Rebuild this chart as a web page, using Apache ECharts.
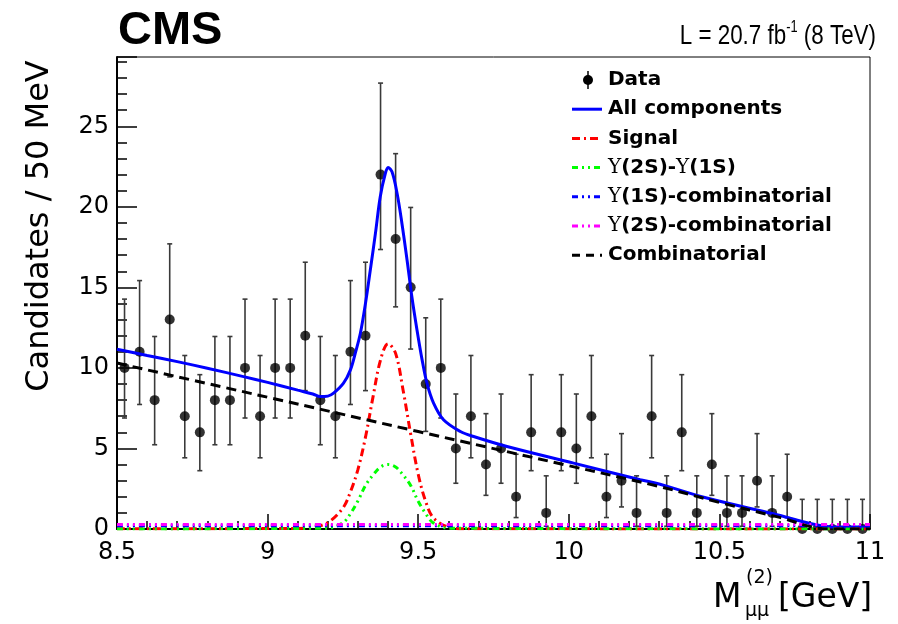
<!DOCTYPE html>
<html lang="en">
<head>
<meta charset="utf-8">
<style>
  html, body { margin: 0; padding: 0; background: #fff; }
  #chart { width: 898px; height: 624px; }
</style>
</head>
<body>
<div id="chart"></div>
<script src="https://cdn.jsdelivr.net/npm/echarts@6/dist/echarts.min.js"></script>
<script>
// bin centres, 50 MeV bins from 8.5 to 11 GeV
const binCenters = [8.525, 8.575, 8.625, 8.675, 8.725, 8.775, 8.825, 8.875, 8.925, 8.975,
  9.025, 9.075, 9.125, 9.175, 9.225, 9.275, 9.325, 9.375, 9.425, 9.475,
  9.525, 9.575, 9.625, 9.675, 9.725, 9.775, 9.825, 9.875, 9.925, 9.975,
  10.025, 10.075, 10.125, 10.175, 10.225, 10.275, 10.325, 10.375, 10.425, 10.475,
  10.525, 10.575, 10.625, 10.675, 10.725, 10.775, 10.825, 10.875, 10.925, 10.975];

// candidates per bin
const counts = [10, 11, 8, 13, 7, 6, 8, 8, 10, 7,
  10, 10, 12, 8, 7, 11, 12, 22, 18, 15,
  9, 10, 5, 7, 4, 5, 2, 6, 1, 6,
  5, 7, 2, 3, 1, 7, 1, 6, 1, 4,
  1, 1, 3, 1, 2, 0, 0, 0, 0, 0];

// error bar ends (low, high) for each count, as drawn
const poissonBand = {
  0: [0, 1.84], 1: [0.17, 3.30], 2: [0.71, 4.64], 3: [1.37, 5.92], 4: [2.09, 7.16],
  5: [2.84, 8.38], 6: [3.62, 9.58], 7: [4.42, 10.77], 8: [5.23, 11.95], 9: [6.06, 13.11],
  10: [6.89, 14.27], 11: [7.73, 15.42], 12: [8.59, 16.56], 13: [9.44, 17.70],
  15: [11.17, 19.96], 18: [13.79, 23.30], 22: [17.35, 27.68]
};

// all components (blue)
const totalX = [8.5, 8.6, 8.7, 8.8, 8.92, 9.0, 9.1, 9.15, 9.175, 9.2, 9.219, 9.252, 9.275, 9.291,
  9.308, 9.325, 9.341, 9.358, 9.374, 9.391, 9.4, 9.413, 9.43, 9.446, 9.463, 9.479, 9.496,
  9.513, 9.529, 9.551, 9.584, 9.64, 9.684, 9.795, 10.016, 10.237, 10.303, 10.458, 10.679,
  10.856, 10.9, 11.0];
const totalY = [11.16, 10.77, 10.39, 9.98, 9.46, 9.10, 8.62, 8.38, 8.22, 8.25, 8.43, 9.05, 9.88, 10.91,
  12.15, 14.01, 16.08, 18.35, 20.62, 22.07, 22.44, 22.17, 20.83, 18.97, 16.7, 14.42, 12.36,
  10.5, 9.05, 7.81, 6.78, 6.05, 5.74, 5.12, 4.09, 3.06, 2.78, 1.92, 0.95,
  0.15, 0.12, 0.12];

// signal (red)
const signalX = [8.5, 9.1, 9.15, 9.2, 9.25, 9.275, 9.3, 9.325, 9.35, 9.375, 9.4, 9.425, 9.45,
  9.475, 9.5, 9.525, 9.55, 9.6, 9.65, 11.0];
const signalY = [0.02, 0.03, 0.1, 0.4, 1.3, 2.3, 3.7, 5.7, 8.2, 10.5, 11.5, 10.9, 8.6,
  5.9, 3.4, 1.7, 0.7, 0.12, 0.02, 0.0];

// Y(2S)-Y(1S) (green)
const y2s1sX = [8.5, 9.2, 9.25, 9.275, 9.3, 9.325, 9.35, 9.375, 9.4, 9.425, 9.45, 9.475, 9.5,
  9.525, 9.55, 9.6, 11.0];
const y2s1sY = [0.0, 0.05, 0.38, 0.95, 1.75, 2.7, 3.35, 3.85, 4.0, 3.85, 3.35, 2.7, 1.72,
  0.95, 0.38, 0.05, 0.0];

// Y(1S)-combinatorial and Y(2S)-combinatorial (flat, near zero)
const y1sCombX = [8.5, 11.0];
const y1sCombY = [0.2, 0.2];
const y2sCombX = [8.5, 11.0];
const y2sCombY = [0.28, 0.28];

// combinatorial (black dashed)
const combX = [8.5, 9.0, 9.5, 10.0, 10.3, 10.5, 10.7, 10.86, 11.0];
const combY = [10.3, 8.18, 6.05, 3.93, 2.64, 1.65, 0.72, 0.0, 0.0];

const xTicks = [8.5, 9, 9.5, 10, 10.5, 11];

const pairs = (xs, ys) => xs.map((x, i) => [x, ys[i]]);
const errData = binCenters.map((x, i) => [x, poissonBand[counts[i]][0], poissonBand[counts[i]][1]]);

const chart = echarts.init(document.getElementById('chart'));
const AX = 'DejaVu Sans';

function curve(name, xs, ys, color, type, z) {
  return {
    name: name, type: 'line', data: pairs(xs, ys), showSymbol: false, smooth: 0.35,
    lineStyle: { color: color, width: 3, type: type }, z: z, silent: true
  };
}

// legend, drawn by hand
const legendRows = [
  { label: '{b|Data}', kind: 'data' },
  { label: '{b|All components}', color: '#0000ff', dash: null },
  { label: '{b|Signal}', color: '#ff0000', dash: [8, 4, 2, 4] },
  { label: '{u|\u03a5}{b|(2S)-}{u|\u03a5}{b|(1S)}', color: '#00ff00', dash: [6, 4, 2, 4, 2, 4] },
  { label: '{u|\u03a5}{b|(1S)-combinatorial}', color: '#0000ff', dash: [6, 4, 2, 4, 2, 4] },
  { label: '{u|\u03a5}{b|(2S)-combinatorial}', color: '#ff00ff', dash: [6, 4, 2, 4, 2, 4] },
  { label: '{b|Combinatorial}', color: '#000000', dash: [8, 6] }
];
const legendGraphics = [];
legendRows.forEach((r, i) => {
  const y = 80 + i * 29.2;
  if (r.kind === 'data') {
    legendGraphics.push({ type: 'line', shape: { x1: 588, y1: y - 9, x2: 588, y2: y + 9 },
      style: { stroke: '#000', lineWidth: 1.5 } });
    legendGraphics.push({ type: 'circle', shape: { cx: 588, cy: y, r: 5 }, style: { fill: '#000' } });
  } else {
    legendGraphics.push({ type: 'line', shape: { x1: 572, y1: y, x2: 602, y2: y },
      style: { stroke: r.color, lineWidth: 3, lineDash: r.dash } });
  }
  legendGraphics.push({
    type: 'text', x: 608, y: y,
    style: {
      text: r.label, verticalAlign: 'middle', align: 'left',
      rich: {
        b: { fontFamily: AX, fontWeight: 'bold', fontSize: 20, fill: '#000' },
        u: { fontFamily: 'DejaVu Serif', fontSize: 20, fill: '#000' }
      }
    }
  });
});

chart.setOption({
  animation: false,
  backgroundColor: '#fff',
  grid: { left: 117, right: 28, top: 57, bottom: 95, show: true, borderColor: '#000', borderWidth: 1 },
  xAxis: {
    type: 'value', min: 8.5, max: 11, interval: 0.5,
    axisLine: { lineStyle: { color: '#000', width: 2 } },
    axisTick: { inside: true, length: 15, lineStyle: { color: '#000', width: 1.5 } },
    minorTick: { show: true, splitNumber: 5, length: 8, lineStyle: { color: '#000', width: 1.5 } },
    splitLine: { show: false },
    axisLabel: {
      margin: 12, color: '#000', fontFamily: AX, fontSize: 24,
      formatter: v => (xTicks.indexOf(v) >= 0 ? String(v) : '')
    }
  },
  yAxis: [{
    type: 'value', min: 0, max: 29.3, interval: 1, position: 'left', offset: 0,
    axisLine: { show: true, lineStyle: { color: '#000', width: 2 } },
    axisTick: { inside: true, length: 10, lineStyle: { color: '#000', width: 1.5 } },
    axisLabel: { show: false },
    splitLine: { show: false }
  }, {
    type: 'value', min: 0, max: 29.3, interval: 5, position: 'left', offset: 0,
    axisLine: { show: false },
    axisTick: { inside: true, length: 20, lineStyle: { color: '#000', width: 1.5 } },
    axisLabel: {
      margin: 8, color: '#000', fontFamily: AX, fontSize: 24,
      formatter: v => (v % 5 === 0 ? String(v) : '')
    },
    splitLine: { show: false }
  }],
  series: [
    {
      name: 'Data errors', type: 'custom', data: errData, z: 2, silent: true,
      encode: { x: 0, y: [1, 2] },
      renderItem: function (params, api) {
        const x = api.value(0);
        const top = api.coord([x, api.value(2)]);
        const bot = api.coord([x, api.value(1)]);
        const st = { stroke: '#3a3a3a', lineWidth: 1.6 };
        return {
          type: 'group', children: [
            { type: 'line', shape: { x1: top[0], y1: top[1], x2: bot[0], y2: bot[1] }, style: st },
            { type: 'line', shape: { x1: top[0] - 2.5, y1: top[1], x2: top[0] + 2.5, y2: top[1] }, style: st },
            { type: 'line', shape: { x1: bot[0] - 2.5, y1: bot[1], x2: bot[0] + 2.5, y2: bot[1] }, style: st }
          ]
        };
      }
    },
    {
      name: 'Data', type: 'scatter', data: pairs(binCenters, counts), symbol: 'circle',
      symbolSize: 10, itemStyle: { color: '#000' }, clip: false, z: 3, silent: true
    },
    curve('All components', totalX, totalY, '#0000ff', 'solid', 4),
    curve('Signal', signalX, signalY, '#ff0000', [8, 4, 2, 4], 5),
    curve('Y(2S)-Y(1S)', y2s1sX, y2s1sY, '#00ff00', [6, 4, 2, 4, 2, 4], 6),
    curve('Y(1S)-combinatorial', y1sCombX, y1sCombY, '#0000ff', [6, 4, 2, 4, 2, 4], 6),
    curve('Y(2S)-combinatorial', y2sCombX, y2sCombY, '#ff00ff', [6, 4, 2, 4, 2, 4], 6),
    curve('Combinatorial', combX, combY, '#000000', [10, 6], 7)
  ],
  graphic: [
    { type: 'text', x: 118, y: 31, style: { text: 'CMS', fontFamily: 'Liberation Sans', fontWeight: 'bold',
      fontSize: 47, fill: '#000', verticalAlign: 'middle', align: 'left' } },
    { type: 'text', x: 876, y: 36, scaleX: 0.8, style: {
      text: '{t|L = 20.7 fb}{s|-1}{t| (8 TeV)}', align: 'right', verticalAlign: 'middle',
      rich: {
        t: { fontFamily: 'Liberation Sans', fontSize: 28, lineHeight: 32, fill: '#000' },
        s: { fontFamily: 'Liberation Sans', fontSize: 16, lineHeight: 18, verticalAlign: 'top', fill: '#000' }
      } } },
    { type: 'text', x: 40, y: 226, rotation: Math.PI / 2, style: {
      text: 'Candidates / 50 MeV', fontFamily: AX, fontSize: 32, fill: '#000',
      align: 'center', verticalAlign: 'middle' } },
    { type: 'text', x: 713, y: 598, style: { text: 'M', fontFamily: AX, fontSize: 33, fill: '#000',
      align: 'left', verticalAlign: 'middle' } },
    { type: 'text', x: 746, y: 578, style: { text: '(2)', fontFamily: AX, fontSize: 19, fill: '#000',
      align: 'left', verticalAlign: 'middle' } },
    { type: 'text', x: 745, y: 611, style: { text: '\u03bc\u03bc', fontFamily: AX, fontSize: 19, fill: '#000',
      align: 'left', verticalAlign: 'middle' } },
    { type: 'text', x: 778, y: 598, style: { text: '[GeV]', fontFamily: AX, fontSize: 33, fill: '#000',
      align: 'left', verticalAlign: 'middle' } }
  ].concat(legendGraphics)
});
</script>
</body>
</html>
